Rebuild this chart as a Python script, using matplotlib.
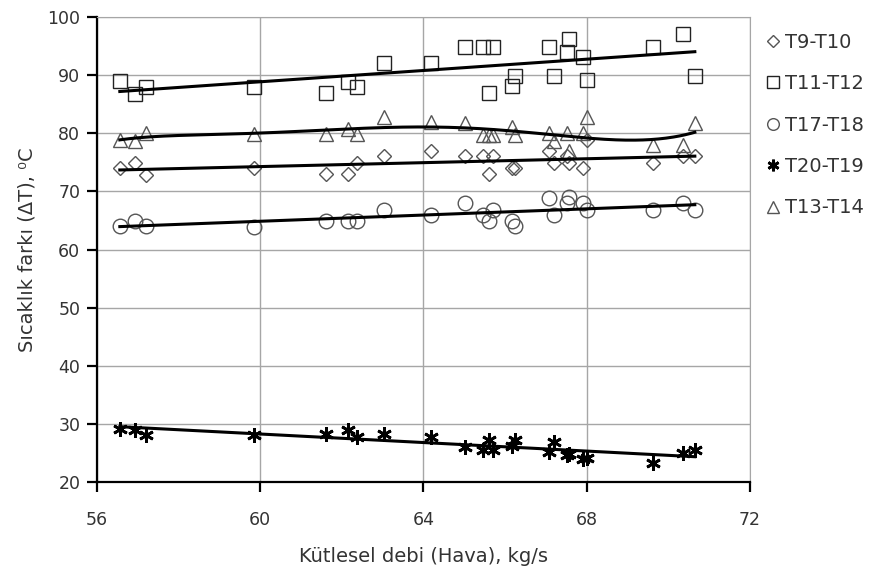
import numpy as np
import matplotlib
matplotlib.use("Agg")
import matplotlib.pyplot as plt

plt.rcParams['font.family'] = ['DejaVu Sans']

# ortak debi degerleri (kg/s)
debi = [56.56, 56.93, 57.2, 59.84, 61.62, 62.16, 62.37, 63.03, 64.19, 65.03, 65.46, 65.6,
        65.7, 66.17, 66.25, 67.08, 67.19, 67.51, 67.57, 67.92, 68.02, 69.63, 70.37, 70.65]

t9_t10 = [74.0, 74.9, 72.9, 74.0, 73.0, 73.0, 74.8, 76.1, 77.0, 76.1, 76.1, 73.0,
          76.1, 74.0, 74.0, 77.0, 74.9, 76.0, 74.9, 74.0, 78.8, 74.8, 76.1, 76.1]
t11_t12 = [89.0, 86.7, 88.0, 87.9, 86.9, 88.9, 88.0, 92.1, 92.1, 94.9, 94.9, 86.9,
           94.9, 88.1, 89.8, 94.9, 89.8, 93.9, 96.2, 93.1, 89.2, 94.8, 97.1, 89.8]
t17_t18 = [64.1, 64.9, 64.1, 63.9, 64.9, 64.9, 64.9, 66.8, 65.9, 68.0, 65.9, 64.9,
           66.8, 64.9, 64.1, 68.8, 65.9, 68.0, 69.0, 68.0, 66.8, 66.8, 68.0, 66.8]
t20_t19 = [29.2, 29.0, 28.1, 28.1, 28.3, 29.0, 27.7, 28.3, 27.8, 26.0, 25.5, 27.2,
           25.5, 26.2, 27.2, 25.2, 26.9, 24.6, 24.8, 23.9, 24.1, 23.3, 25.0, 25.5]
t13_t14 = [78.8, 78.7, 80.0, 79.9, 79.9, 80.8, 79.9, 82.8, 82.0, 81.8, 79.7, 79.7,
           79.7, 81.1, 79.7, 80.1, 78.7, 80.1, 77.0, 80.1, 82.8, 77.9, 77.9, 81.8]

etiketler = ['T9-T10', 'T11-T12', 'T17-T18', 'T20-T19', 'T13-T14']

yazi = '#333333'
fig = plt.figure(figsize=(8.72, 5.72), dpi=100)
ax = fig.add_axes([0.1112, 0.1573, 0.7488, 0.813])

x = np.array(debi)
xs = np.linspace(x.min(), x.max(), 300)

seriler = [
    (t9_t10, dict(marker='D', ms=7.5, mfc='none', mec='#555555', mew=1.0), 1),
    (t11_t12, dict(marker='s', ms=10, mfc='none', mec='#222222', mew=1.0), 1),
    (t17_t18, dict(marker='o', ms=10.5, mfc='none', mec='#555555', mew=1.0), 1),
    (t20_t19, dict(marker=(6, 2, 0), ms=10.5, mfc='none', mec='black', mew=2.0), 1),
    (t13_t14, dict(marker='^', ms=10, mfc='none', mec='#555555', mew=1.0), 6),
]

for (y, stil, derece), ad in zip(seriler, etiketler):
    ax.plot(x, y, ls='none', label=ad, zorder=3, **stil)
    # egilim cizgisi
    u = (x - x.mean()) / x.std()
    k = np.polyfit(u, y, derece)
    ax.plot(xs, np.polyval(k, (xs - x.mean()) / x.std()), color='black', lw=2.2, zorder=4)

ax.set_xlim(56, 72)
ax.set_ylim(20, 100)
ax.set_xticks([56, 60, 64, 68, 72])
ax.set_yticks(range(20, 101, 10))
ax.grid(True, color='#a6a6a6', lw=1.0)
ax.set_axisbelow(True)
for s in ['top', 'right']:
    ax.spines[s].set_color('#a6a6a6')
for s in ['left', 'bottom']:
    ax.spines[s].set_color('black')
    ax.spines[s].set_linewidth(1.6)
ax.tick_params(direction='out', length=7, width=1.6, labelsize=12.5, colors='black',
               labelcolor=yazi, pad=5)
ax.tick_params(axis='x', pad=14)

ax.set_xlabel('Kütlesel debi (Hava), kg/s', fontsize=14, color=yazi, labelpad=13)
ax.set_ylabel('Sıcaklık farkı (ΔT), ⁰C', fontsize=14, color=yazi, labelpad=8)

ax.legend(loc='upper left', bbox_to_anchor=(1.0, 0.995), frameon=False, fontsize=14,
          handletextpad=0.1, labelspacing=1.15, handlelength=1.0, markerscale=0.8,
          borderaxespad=0.3, labelcolor=yazi)

fig.savefig('out.png', dpi=100)
